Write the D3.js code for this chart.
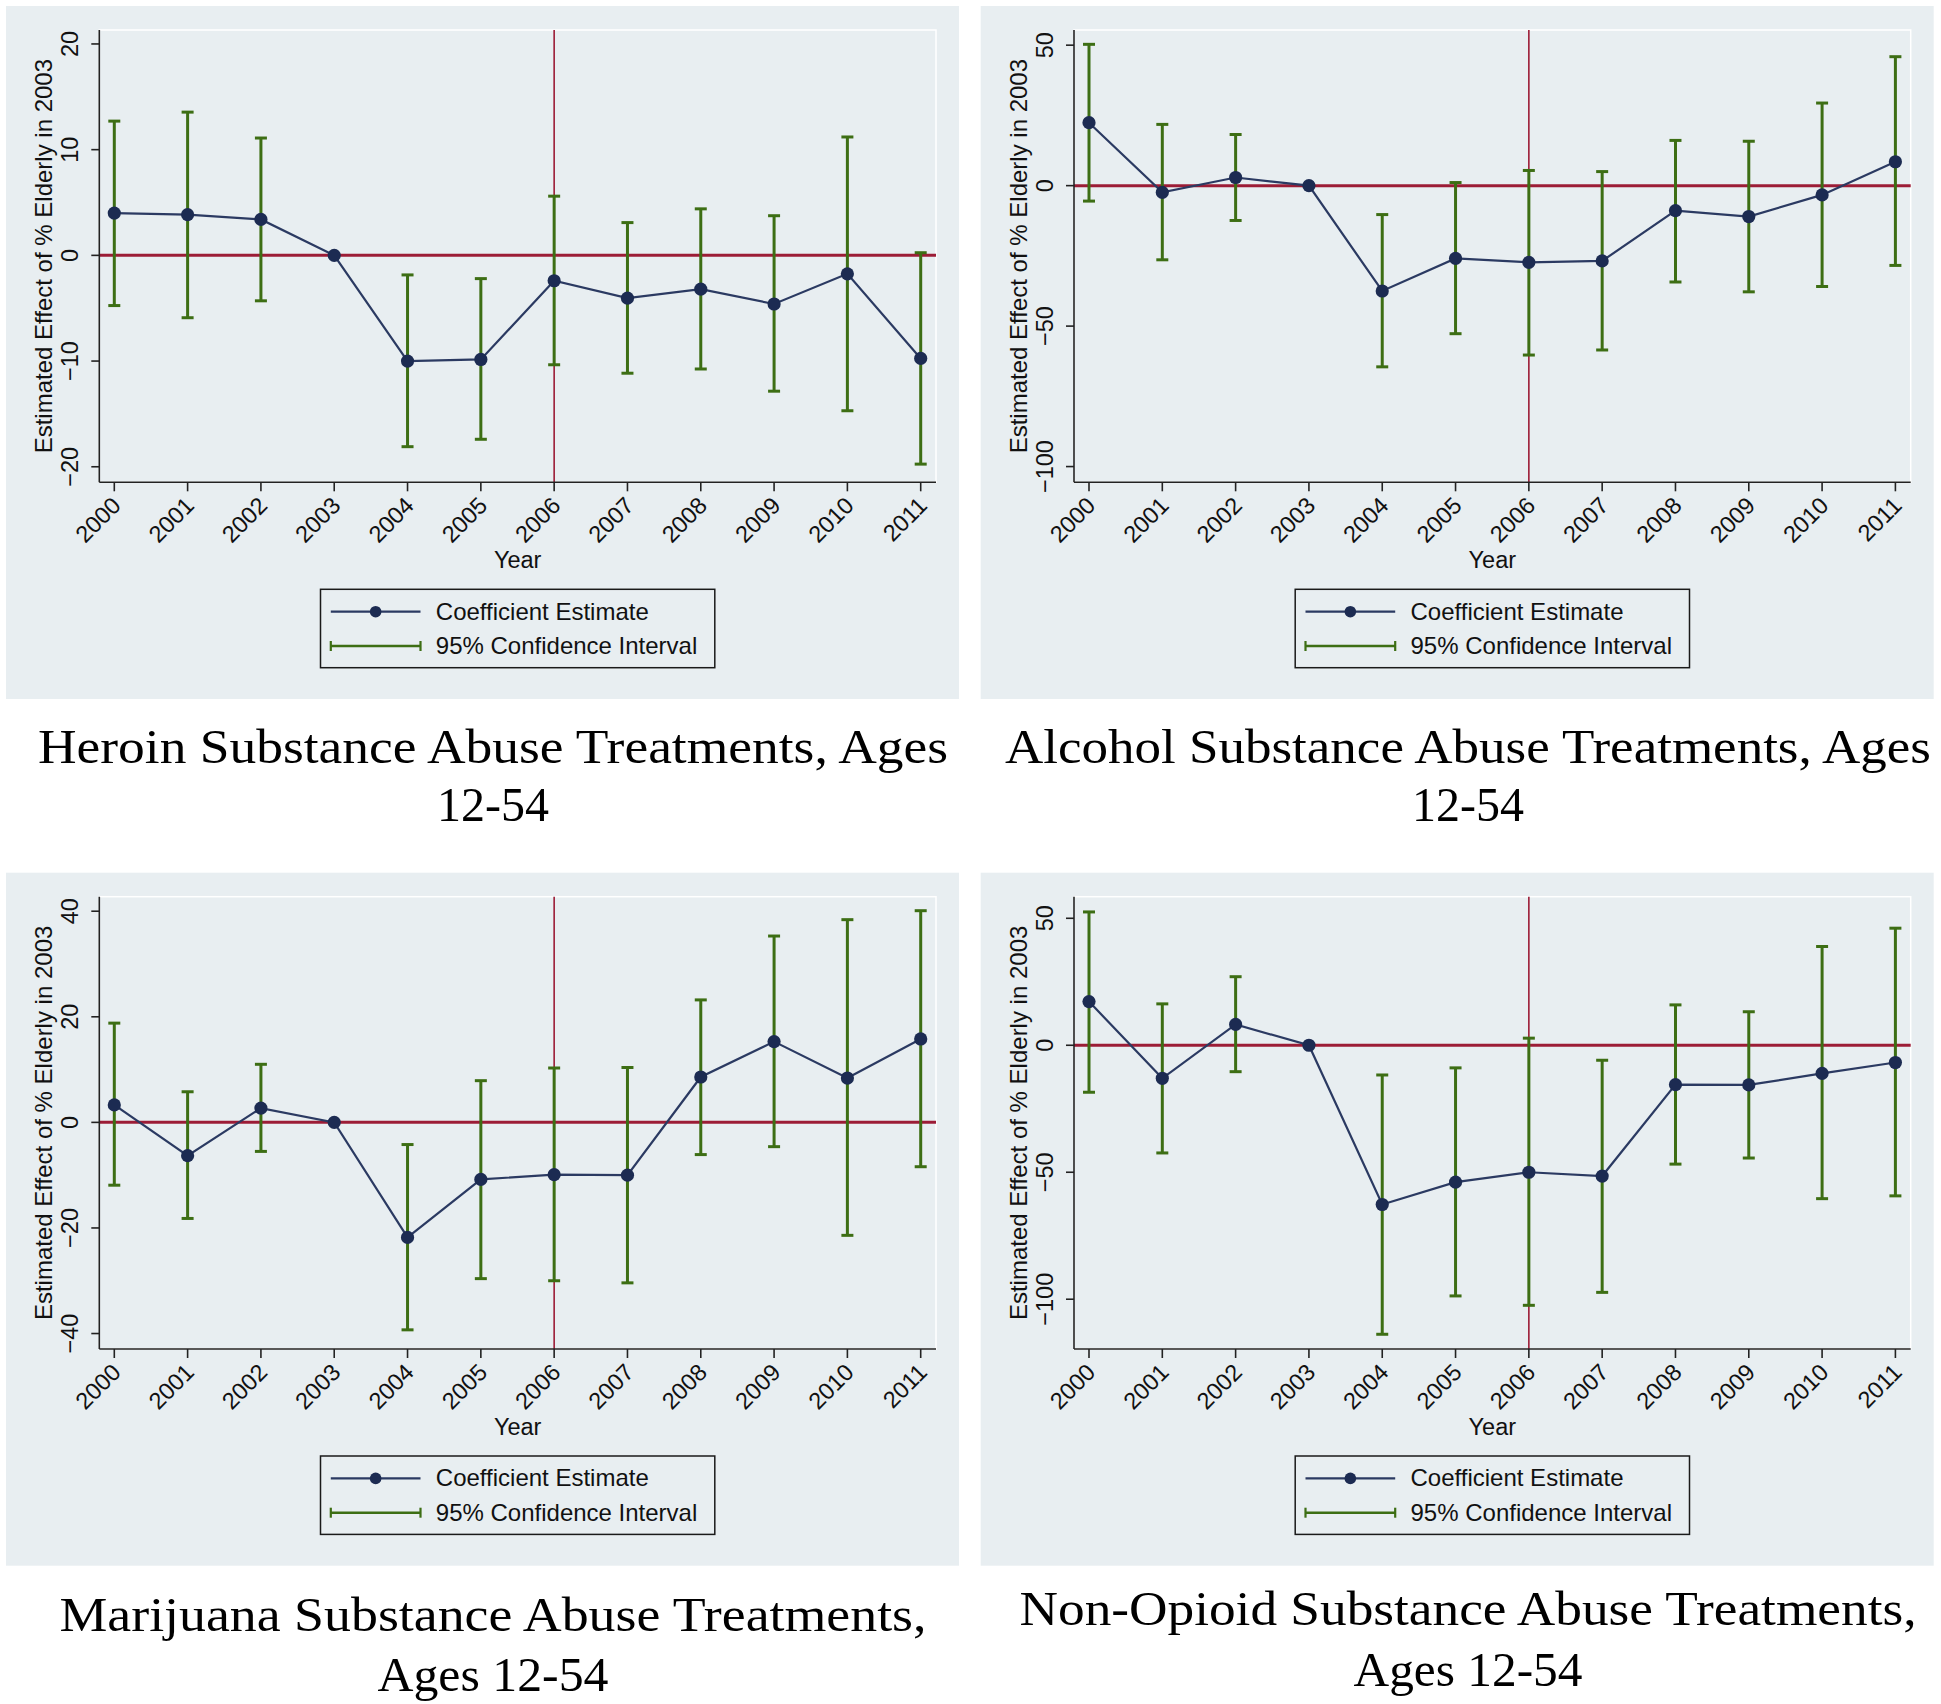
<!DOCTYPE html>
<html>
<head>
<meta charset="utf-8">
<script src="https://cdn.jsdelivr.net/npm/d3@7"></script>
<style>
  html, body { margin: 0; padding: 0; background: #ffffff; }
  svg { display: block; }
</style>
</head>
<body>
<svg id="chart" width="1941" height="1704"></svg>
<script>
// ---------------- DATA ----------------
const years = [2000, 2001, 2002, 2003, 2004, 2005, 2006, 2007, 2008, 2009, 2010, 2011];

const heroinCoef = [4.0, 3.85, 3.4, 0, -10.0, -9.85, -2.4, -4.05, -3.2, -4.6, -1.75, -9.75];
const heroinHi   = [12.7, 13.55, 11.1, null, -1.85, -2.2, 5.6, 3.1, 4.4, 3.75, 11.2, 0.25];
const heroinLo   = [-4.75, -5.9, -4.3, null, -18.1, -17.4, -10.35, -11.15, -10.75, -12.85, -14.7, -19.75];
const heroinTicks = [-20, -10, 0, 10, 20];
const heroinRange = [-21.47, 21.32];

const alcoholCoef = [22.4, -2.4, 2.9, 0, -37.5, -25.9, -27.3, -26.8, -8.9, -11.0, -3.3, 8.5];
const alcoholHi   = [50.3, 21.8, 18.2, null, -10.3, 1.1, 5.4, 5.0, 16.1, 15.8, 29.4, 45.9];
const alcoholLo   = [-5.5, -26.4, -12.4, null, -64.5, -52.7, -60.3, -58.5, -34.3, -37.8, -35.9, -28.4];
const alcoholTicks = [-100, -50, 0, 50];
const alcoholRange = [-105.6, 55.4];

const marijuanaCoef = [3.3, -6.3, 2.7, 0, -21.8, -10.8, -9.9, -10.0, 8.6, 15.3, 8.4, 15.8];
const marijuanaHi   = [18.8, 5.8, 11.0, null, -4.2, 7.9, 10.3, 10.4, 23.2, 35.3, 38.4, 40.1];
const marijuanaLo   = [-11.9, -18.2, -5.5, null, -39.3, -29.6, -30.0, -30.4, -6.1, -4.6, -21.4, -8.4];
const marijuanaTicks = [-40, -20, 0, 20, 40];
const marijuanaRange = [-42.93, 42.75];

const nonOpioidCoef = [17.2, -13.0, 8.2, 0, -62.7, -53.9, -50.0, -51.5, -15.5, -15.6, -11.1, -6.8];
const nonOpioidHi   = [52.5, 16.3, 27.0, null, -11.7, -8.9, 2.8, -5.9, 15.9, 13.2, 38.9, 46.1];
const nonOpioidLo   = [-18.5, -42.4, -10.4, null, -113.8, -98.7, -102.4, -97.3, -46.8, -44.4, -60.4, -59.3];
const nonOpioidTicks = [-100, -50, 0, 50];
const nonOpioidRange = [-119.6, 58.5];

const treatmentYear = 2006;
const yAxisTitle = "Estimated Effect of % Elderly in 2003";
const xAxisTitle = "Year";
const legendLabels = ["Coefficient Estimate", "95% Confidence Interval"];

const titles = [
  ["Heroin Substance Abuse Treatments, Ages", "12-54"],
  ["Alcohol Substance Abuse Treatments, Ages", "12-54"],
  ["Marijuana Substance Abuse Treatments,", "Ages 12-54"],
  ["Non-Opioid Substance Abuse Treatments,", "Ages 12-54"]
];

// ---------------- STYLE / LAYOUT ----------------
const C = {
  bg: "#e8eef1",
  navy: "#1c2b52",
  navyLine: "#2b3a62",
  green: "#3d6e14",
  red: "#9c1c36",
  axis: "#222222",
  text: "#111111"
};
const SANS = "'Liberation Sans', Arial, Helvetica, sans-serif";
const SERIF = "'Liberation Serif', 'Times New Roman', serif";

const panelW = 953, panelH = 693;
const plot = { left: 93.3, top: 24, right: 930, bottom: 476.3, x0: 108.3, x1: 914.7 };

const panels = [
  { ox: 6,     oy: 6,     coef: heroinCoef,    hi: heroinHi,    lo: heroinLo,    ticks: heroinTicks,    range: heroinRange,
    title: titles[0], tcx: 493,  tb: [763, 821], tw: [910, 112] },
  { ox: 980.7, oy: 6,     coef: alcoholCoef,   hi: alcoholHi,   lo: alcoholLo,   ticks: alcoholTicks,   range: alcoholRange,
    title: titles[1], tcx: 1468, tb: [763, 821], tw: [926, 112] },
  { ox: 6,     oy: 872.7, coef: marijuanaCoef, hi: marijuanaHi, lo: marijuanaLo, ticks: marijuanaTicks, range: marijuanaRange,
    title: titles[2], tcx: 493,  tb: [1631, 1691], tw: [867, 231] },
  { ox: 980.7, oy: 872.7, coef: nonOpioidCoef, hi: nonOpioidHi, lo: nonOpioidLo, ticks: nonOpioidTicks, range: nonOpioidRange,
    title: titles[3], tcx: 1468, tb: [1625, 1686], tw: [897, 229] }
];

const svg = d3.select("#chart");
svg.append("rect").attr("width", 1941).attr("height", 1704).attr("fill", "#ffffff");

const fmt = v => (v < 0 ? "\u2212" + Math.abs(v) : String(v));

function drawPanel(p) {
  const g = svg.append("g").attr("transform", `translate(${p.ox},${p.oy})`);
  g.append("rect").attr("width", panelW).attr("height", panelH).attr("fill", C.bg);

  const x = d3.scaleLinear().domain([years[0], years[years.length - 1]]).range([plot.x0, plot.x1]);
  const y = d3.scaleLinear().domain(p.range).range([plot.bottom, plot.top]);

  // plot region with white outline
  g.append("rect")
    .attr("x", plot.left).attr("y", plot.top)
    .attr("width", plot.right - plot.left).attr("height", plot.bottom - plot.top)
    .attr("fill", C.bg).attr("stroke", "#ffffff").attr("stroke-width", 1.5);

  // reference lines
  g.append("line")
    .attr("x1", plot.left).attr("x2", plot.right)
    .attr("y1", y(0)).attr("y2", y(0))
    .attr("stroke", C.red).attr("stroke-width", 3);
  g.append("line")
    .attr("x1", x(treatmentYear)).attr("x2", x(treatmentYear))
    .attr("y1", plot.top).attr("y2", plot.bottom)
    .attr("stroke", C.red).attr("stroke-width", 1.6);

  // confidence intervals
  const ci = years.map((yr, i) => ({ yr, lo: p.lo[i], hi: p.hi[i] })).filter(d => d.lo !== null);
  const cap = 6;
  const cig = g.append("g").attr("stroke", C.green).attr("stroke-width", 3).attr("fill", "none");
  cig.selectAll("line.v").data(ci).join("line").attr("class", "v")
    .attr("x1", d => x(d.yr)).attr("x2", d => x(d.yr))
    .attr("y1", d => y(d.hi)).attr("y2", d => y(d.lo));
  cig.selectAll("line.t").data(ci).join("line").attr("class", "t")
    .attr("x1", d => x(d.yr) - cap).attr("x2", d => x(d.yr) + cap)
    .attr("y1", d => y(d.hi)).attr("y2", d => y(d.hi));
  cig.selectAll("line.b").data(ci).join("line").attr("class", "b")
    .attr("x1", d => x(d.yr) - cap).attr("x2", d => x(d.yr) + cap)
    .attr("y1", d => y(d.lo)).attr("y2", d => y(d.lo));

  // coefficient line + markers
  const pts = years.map((yr, i) => ({ yr, v: p.coef[i] }));
  g.append("path").datum(pts)
    .attr("d", d3.line().x(d => x(d.yr)).y(d => y(d.v)))
    .attr("fill", "none").attr("stroke", C.navyLine).attr("stroke-width", 2.2);
  g.selectAll("circle.pt").data(pts).join("circle").attr("class", "pt")
    .attr("cx", d => x(d.yr)).attr("cy", d => y(d.v)).attr("r", 6.6)
    .attr("fill", C.navy);

  // y axis
  g.append("line").attr("x1", plot.left).attr("x2", plot.left)
    .attr("y1", plot.top).attr("y2", plot.bottom)
    .attr("stroke", C.axis).attr("stroke-width", 1.6);
  g.selectAll("line.yt").data(p.ticks).join("line").attr("class", "yt")
    .attr("x1", plot.left - 8).attr("x2", plot.left)
    .attr("y1", d => y(d)).attr("y2", d => y(d))
    .attr("stroke", C.axis).attr("stroke-width", 1.6);
  g.selectAll("text.yl").data(p.ticks).join("text").attr("class", "yl")
    .attr("transform", d => `translate(${plot.left - 21},${y(d)}) rotate(-90)`)
    .attr("text-anchor", "middle")
    .attr("font-family", SANS).attr("font-size", 23.5).attr("fill", C.text)
    .text(fmt);
  g.append("text")
    .attr("transform", `translate(46,${(plot.top + plot.bottom) / 2}) rotate(-90)`)
    .attr("text-anchor", "middle")
    .attr("font-family", SANS).attr("font-size", 24).attr("fill", C.text)
    .text(yAxisTitle);

  // x axis
  g.append("line").attr("x1", plot.left).attr("x2", plot.right)
    .attr("y1", plot.bottom).attr("y2", plot.bottom)
    .attr("stroke", C.axis).attr("stroke-width", 1.6);
  g.selectAll("line.xt").data(years).join("line").attr("class", "xt")
    .attr("x1", d => x(d)).attr("x2", d => x(d))
    .attr("y1", plot.bottom).attr("y2", plot.bottom + 9)
    .attr("stroke", C.axis).attr("stroke-width", 1.6);
  g.selectAll("text.xl").data(years).join("text").attr("class", "xl")
    .attr("transform", d => `translate(${x(d) + 2},${plot.bottom + 19}) rotate(-45)`)
    .attr("text-anchor", "end")
    .attr("dy", "0.35em")
    .attr("font-family", SANS).attr("font-size", 23.5).attr("fill", C.text)
    .text(d => String(d));
  const cx = (plot.left + plot.right) / 2;
  g.append("text")
    .attr("x", cx).attr("y", 562)
    .attr("text-anchor", "middle")
    .attr("font-family", SANS).attr("font-size", 23.5).attr("fill", C.text)
    .text(xAxisTitle);

  // legend
  const lw = 394.3, lh = 78.4, lx = cx - lw / 2, ly = 583.3;
  const lg = g.append("g");
  lg.append("rect").attr("x", lx).attr("y", ly).attr("width", lw).attr("height", lh)
    .attr("fill", C.bg).attr("stroke", "#1a1a1a").attr("stroke-width", 1.5);
  const r1 = ly + 22.4, r2 = ly + 56.7;
  const sx0 = lx + 10.3, sx1 = lx + 100;
  lg.append("line").attr("x1", sx0).attr("x2", sx1).attr("y1", r1).attr("y2", r1)
    .attr("stroke", C.navyLine).attr("stroke-width", 2.2);
  lg.append("circle").attr("cx", (sx0 + sx1) / 2).attr("cy", r1).attr("r", 5.8).attr("fill", C.navy);
  lg.append("line").attr("x1", sx0).attr("x2", sx1).attr("y1", r2).attr("y2", r2)
    .attr("stroke", C.green).attr("stroke-width", 2.4);
  [sx0, sx1].forEach(xx => {
    lg.append("line").attr("x1", xx).attr("x2", xx).attr("y1", r2 - 5).attr("y2", r2 + 5)
      .attr("stroke", C.green).attr("stroke-width", 2.2);
  });
  lg.selectAll("text.lt").data(legendLabels).join("text").attr("class", "lt")
    .attr("x", lx + 115.3).attr("y", (d, i) => (i === 0 ? r1 : r2) + 8)
    .attr("font-family", SANS).attr("font-size", 24).attr("fill", C.text)
    .text(d => d);

  // caption (below panel)
  p.title.forEach((t, i) => {
    svg.append("text")
      .attr("x", p.tcx).attr("y", p.tb[i])
      .attr("text-anchor", "middle")
      .attr("font-family", SERIF).attr("font-size", 49)
      .attr("textLength", p.tw[i]).attr("lengthAdjust", "spacingAndGlyphs")
      .attr("fill", "#000000")
      .text(t);
  });
}

panels.forEach(drawPanel);
</script>
</body>
</html>
